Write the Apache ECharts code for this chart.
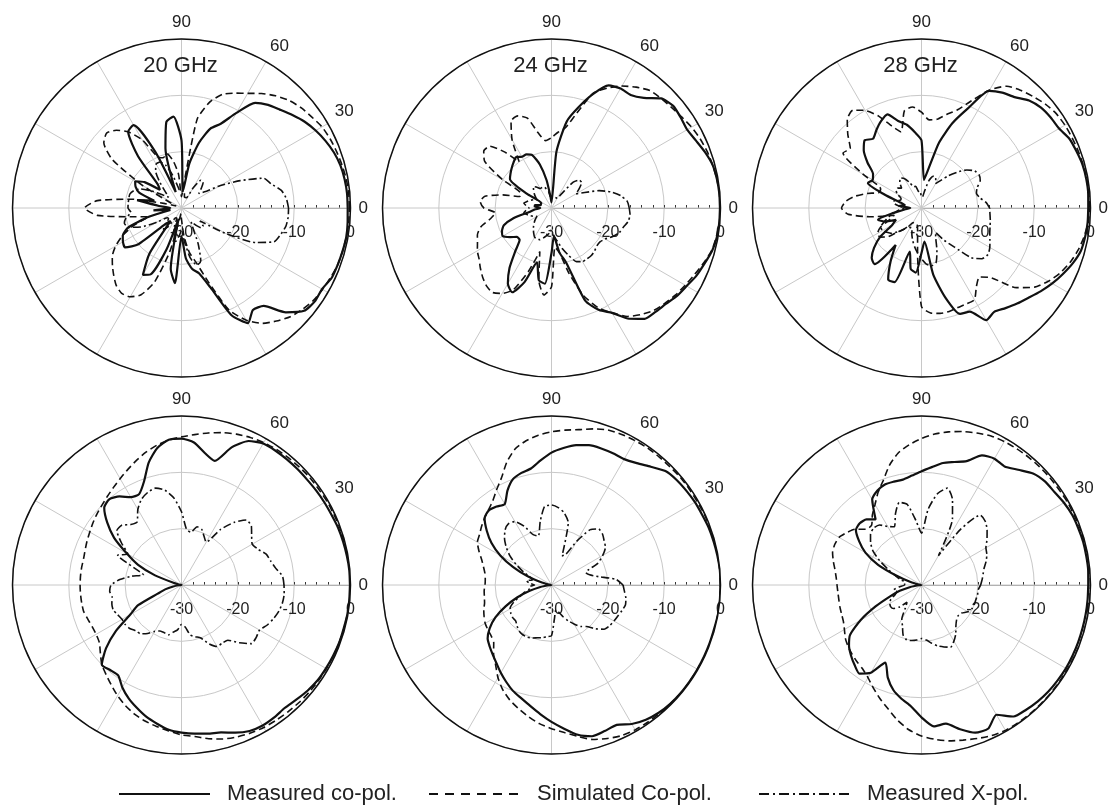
<!DOCTYPE html>
<html>
  <head>
    <meta charset="utf-8" />
    <title>Radiation patterns</title>
    <style>
      body {
        margin: 0;
        padding: 0;
        background: #fff;
      }
      #chart {
        width: 1115px;
        height: 808px;
      }
    </style>
    <script src="https://cdn.jsdelivr.net/npm/echarts/dist/echarts.min.js"></script>
  </head>

  <body>
    <div id="chart"></div>
  </body>
  <script>
    // angle of each sample, degrees (0 = right, counter-clockwise)
    const angles = [0, 5, 10, 15, 20, 25, 30, 35, 40, 45, 50, 55,
      60, 65, 70, 75, 80, 85, 90, 95, 100, 105, 110, 115,
      120, 125, 130, 135, 140, 145, 150, 155, 160, 165, 170, 175,
      180, 185, 190, 195, 200, 205, 210, 215, 220, 225, 230, 235,
      240, 245, 250, 255, 260, 265, 270, 275, 280, 285, 290, 295,
      300, 305, 310, 315, 320, 325, 330, 335, 340, 345, 350, 355, 360];

    const angleLabels = [0, 30, 60, 90];
    const radiusTicks = [-30, -20, -10, 0];
    const seriesNames = ["Measured co-pol.", "Simulated Co-pol.", "Measured X-pol."];
    const freqLabels = ["20 GHz", "24 GHz", "28 GHz"];

    // ---- top row, normalized gain in dB ----
    const meas_t20 = [-0.5, -0.5, -0.6, -0.8, -1.2, -1.8, -2.5, -3.3, -4.3, -5.3, -6.1, -7.2,
      -10.5, -13.5, -15, -18, -22, -27, -18, -13.7, -14.5, -19, -27, -19,
      -13, -13.5, -18, -24, -25, -22, -20.5, -21, -22, -25, -22, -26,
      -28, -25, -28, -24, -20, -18.5, -18, -17.8, -20, -26, -27, -20,
      -16.3, -17, -22, -28, -19, -16.6, -25, -21, -19, -18, -15, -9,
      -6.4, -7.9, -7.3, -3.8, -1.6, -1.1, -1.2, -0.6, -0.5, -0.4, -0.3, -0.4, -0.5];
    const sim_t20 = [-0.2, -0.2, -0.3, -0.5, -0.7, -0.9, -1.2, -1.8, -2.3, -3, -4, -5.2,
      -6.5, -7.5, -8.5, -10.5, -14, -26, -28, -24, -21.5, -20, -20.5, -20,
      -16, -13.5, -12, -11.2, -12, -15, -22, -28, -29, -27, -21, -15,
      -12.8, -15, -21, -24, -21, -18.5, -16.5, -15, -14, -13, -12, -11.5,
      -11.8, -13, -16, -22, -28, -29, -28, -25, -22, -20, -16, -10,
      -7, -5, -3.8, -2.7, -2, -1.4, -1.1, -0.8, -0.5, -0.4, -0.3, -0.2, -0.2];
    const xpol_t20 = [-11, -11.3, -12, -13.5, -14.5, -18.5, -22, -25, -26, -25, -24, -24,
      -26, -28, -28, -28, -27, -27, -27, -27, -26, -24, -22, -21,
      -21, -22, -24, -26, -27, -26, -24, -22, -21, -20.5, -20.5, -20.5,
      -20.5, -21, -20, -19.5, -20, -22, -25, -27, -27, -26, -25, -26,
      -28, -28, -26, -25, -24, -25, -26, -24, -21, -19.5, -20, -23,
      -26, -27, -26, -25, -25, -26, -21, -15.5, -12.5, -11.8, -11.2, -11, -11];

    const meas_t24 = [-0.1, -0.1, -0.2, -0.4, -1, -1.7, -2.2, -2, -1.8, -2.5, -4.5, -5.5,
      -5.5, -6, -8.5, -11.5, -14.4, -20, -29, -28, -25, -22, -20, -19.5,
      -19.5, -19, -19.5, -20, -20.5, -21, -25, -28, -28, -28, -27, -27,
      -28, -27, -26, -23, -21, -20.3, -20, -21, -22, -22, -20, -17,
      -14.5, -13.5, -16, -20, -17, -16.5, -22, -25, -22, -20, -12.5, -10,
      -8.5, -6, -4.3, -3.9, -3.5, -2.8, -2.3, -1.6, -1.1, -0.5, -0.2, -0.1, -0.1];
    const sim_t24 = [0, -0.1, -0.2, -0.4, -0.6, -0.9, -1.3, -1.8, -2.2, -2.5, -2.8, -3.8,
      -5, -6.5, -8.3, -12.5, -15.5, -16.5, -17.5, -18, -16.5, -13.5, -12.6, -13,
      -16, -20, -17, -14.5, -14.3, -15.5, -20, -24, -24, -21, -18, -17.3,
      -18, -20, -19, -17, -16, -15.5, -14.8, -14.3, -13.5, -12.7, -12, -11.7,
      -12.5, -14, -18, -22, -17, -14.5, -16, -23, -22, -18, -13.5, -10.5,
      -8.5, -6.5, -5.3, -4.3, -3.7, -3.1, -2.6, -2, -1.3, -0.6, -0.3, -0.1, 0];
    const xpol_t24 = [-16.2, -16.5, -17.5, -19, -21, -23.5, -25, -24, -23, -23, -24, -27,
      -28, -28, -28, -28, -28, -28, -28, -28, -27, -26.5, -26, -26,
      -26, -25.5, -25, -25.5, -26, -26.5, -27, -26.5, -26, -25.5, -25, -25.5,
      -26, -25.5, -25, -25.5, -26, -26.5, -27, -26.5, -26, -25.5, -25, -24.5,
      -24, -24, -24, -24.5, -25, -25.5, -26, -25, -24, -22.5, -21, -19.5,
      -19, -19, -19, -19.2, -19.5, -19.5, -19, -18, -17.2, -16.8, -16.2, -16, -16.2];

    const meas_t28 = [-0.4, -0.3, -0.3, -0.4, -0.7, -1, -1.8, -2, -2.3, -3, -4.3, -5,
      -6, -10.5, -14, -18, -23, -25, -18, -16.5, -15, -14, -12.3, -13,
      -14, -15, -14.3, -15.5, -17.5, -19.5, -20, -19.5, -23, -26, -27, -26,
      -28, -27, -25, -22, -23, -25, -24, -21, -19, -17.5, -17, -22,
      -19, -16, -16, -22, -19, -18.5, -22, -24, -18, -13.5, -10, -9.7,
      -7, -7.5, -6.8, -6, -5.2, -4.2, -3.2, -2.3, -1.4, -0.7, -0.5, -0.4, -0.4];
    const sim_t28 = [-0.1, -0.2, -0.2, -0.3, -0.4, -0.5, -0.6, -0.8, -1.3, -2, -2.7, -3.6,
      -5.8, -9, -11.5, -12.8, -14, -14.3, -13, -12, -12.5, -16, -14.5, -12,
      -10, -8.8, -9.5, -11.5, -13.5, -13, -18, -22, -22, -20, -18, -16.5,
      -15.8, -17, -21, -25, -24, -22, -21, -21, -22, -24, -25, -26,
      -27, -27, -27, -27, -26, -22, -12.5, -11.3, -11, -11, -11.2, -11.2,
      -11.2, -13, -14, -12.5, -8, -5.5, -4, -2.8, -1.9, -1.2, -0.7, -0.3, -0.1];
    const xpol_t28 = [-17.9, -18.5, -19.5, -19.9, -19.5, -18.5, -18.2, -18.5, -19.5, -21, -22.5, -24,
      -25, -24, -24, -25, -27, -28, -28, -27, -27, -26, -26, -25,
      -24, -23.5, -24, -25, -24.5, -24.5, -25, -26, -26, -25, -25, -26,
      -27, -26, -25, -24, -23, -22, -22, -22.5, -23, -24, -25, -26,
      -26, -26, -25, -24, -23, -22, -21, -20, -19.6, -20, -22, -24,
      -25, -23, -21, -17.5, -16, -15.6, -16, -16.6, -17.1, -17.4, -17.6, -17.8, -17.9];

    // ---- bottom row ----
    const meas_b20 = [-0.1, -0.1, -0.2, -0.3, -0.4, -0.6, -0.7, -0.8, -0.9, -0.9, -0.9, -0.9,
      -1, -1.8, -4, -7.2, -6.2, -4.6, -4, -4.1, -5.3, -7.5, -10.5, -12.2,
      -12, -10.8, -10.1, -10.6, -12.8, -15.4, -18.8, -21.5, -25, -28.5, -29.5, -29.8,
      -30, -29.5, -28.5, -27, -25.5, -21.5, -19.5, -15.8, -12.5, -10, -10.3, -10.4,
      -9, -7.8, -6.8, -5.8, -5, -4.2, -3.8, -3.5, -3.2, -2.9, -2.1, -1.4,
      -1.2, -1.3, -1.5, -1.2, -0.8, -0.5, -0.4, -0.3, -0.2, -0.2, -0.1, -0.1, -0.1];
    const sim_b20 = [0, 0, 0, -0.1, -0.1, -0.2, -0.2, -0.3, -0.3, -0.4, -0.5, -0.6,
      -0.8, -1.1, -1.5, -2, -2.6, -3.2, -3.7, -4.2, -4.8, -5.6, -6.5, -7.4,
      -8.2, -8.9, -9.5, -10, -10.4, -10.8, -11.2, -11.5, -11.8, -12, -12, -12,
      -12, -12, -12, -12, -12.3, -12.5, -12.5, -12.2, -11.2, -10, -9.2, -8.3,
      -7.3, -6.4, -5.6, -5, -4.5, -4, -3.4, -3, -2.3, -1.7, -1.3, -1,
      -0.8, -0.7, -0.6, -0.5, -0.4, -0.35, -0.3, -0.25, -0.2, -0.15, -0.1, -0.05, 0];
    const xpol_b20 = [-11.8, -12, -13, -13.6, -14, -15, -15.5, -14.8, -13.8, -13.7, -15.5, -18,
      -21.2, -20.5, -19.5, -19.3, -20.5, -20, -17, -14.5, -12.9, -12.2, -12.5, -13.2,
      -14.5, -16.3, -16, -15, -15, -17, -19, -17.5, -21, -23, -21, -19,
      -17.5, -17.2, -17.5, -17.2, -17.1, -17.5, -17.8, -17.8, -18, -18.5, -18.7, -19.5,
      -20.5, -21, -21, -20.8, -21.5, -22, -23, -22.5, -21, -20.5, -20, -18.5,
      -17.4, -17.4, -17.2, -15.5, -13.8, -13.8, -14, -13.2, -12.6, -12.1, -11.8, -11.7, -11.8];

    const meas_b24 = [0, 0, -0.1, -0.2, -0.3, -0.5, -0.6, -0.8, -1, -1.4, -2.6, -3.6,
      -4.2, -4.2, -4.2, -4.3, -4.8, -5.6, -6.5, -7.8, -9, -9.4, -10, -11.5,
      -13.4, -13, -12.7, -13.2, -15, -17, -19.5, -22.5, -25.5, -28, -29.5, -30,
      -30, -29.5, -28, -26, -23.5, -21, -18.5, -16.6, -15.2, -14.5, -13.8, -13,
      -12, -11, -10, -9.2, -8.2, -7, -5.7, -4.4, -3, -2.2, -2.4, -2.6,
      -1.5, -0.8, -0.4, -0.2, -0.1, -0.1, -0.1, -0.1, -0.1, -0.1, 0, 0, 0];
    const sim_b24 = [0, 0, 0, 0, -0.1, -0.1, -0.2, -0.2, -0.2, -0.3, -0.3, -0.3,
      -0.4, -0.5, -0.7, -1.3, -2, -2.4, -2.8, -3.3, -4, -5, -6.8, -9,
      -10.5, -11.8, -12.6, -13.2, -13.8, -14.4, -14.8, -15.8, -16.8, -17.5, -18, -18.2,
      -18.2, -18, -17.9, -17.7, -17.2, -16.8, -16.4, -16.2, -16, -15.5, -14, -12.7,
      -11, -9.5, -8.3, -7.3, -6.3, -5.3, -4.5, -3.7, -2.7, -1.6, -1, -0.5,
      -0.3, -0.25, -0.2, -0.15, -0.1, -0.1, -0.1, -0.05, 0, 0, 0, 0, 0];
    const xpol_b24 = [-17.3, -18.5, -21.5, -23, -23.5, -21, -19.5, -18.3, -17.8, -17.2, -17, -18,
      -21, -24, -24.5, -18.5, -17, -16.2, -15.8, -16, -18.5, -21, -20.5, -18.5,
      -17, -16.7, -17.2, -18.2, -19.5, -21, -22.8, -24.5, -26, -26.5, -25.5, -26,
      -27, -26, -26, -25, -24, -22.5, -21.5, -21.2, -21, -21, -20.5, -20,
      -19.8, -19.8, -20, -20.3, -20.5, -20.8, -21, -24, -25.5, -25, -24, -23,
      -22, -21, -20.4, -19, -17.8, -17.4, -17.2, -17, -16.7, -16.4, -16.6, -17, -17.3];

    const meas_b28 = [-0.4, -0.3, -0.3, -0.3, -0.4, -0.5, -0.8, -1.2, -1.4, -2, -3.3, -4.3,
      -4.1, -4.6, -6.6, -7.4, -8, -9, -9.8, -10.5, -11, -11, -11, -11.5,
      -12.5, -15.8, -14.8, -14.5, -14.8, -16.5, -18.5, -21.5, -25.5, -28, -29.5, -30,
      -30, -29.5, -28, -26, -24, -21, -17.5, -14.5, -13.2, -12.3, -11.5, -10.8,
      -12, -14.8, -12.5, -10.7, -9.5, -8.4, -6.5, -4.8, -5, -3.5, -2.1, -1.9,
      -3.4, -1.5, -1.1, -0.8, -0.6, -0.5, -0.4, -0.4, -0.4, -0.4, -0.4, -0.4, -0.4];
    const sim_b28 = [0, 0, 0, -0.1, -0.1, -0.2, -0.2, -0.3, -0.3, -0.35, -0.4, -0.5,
      -0.6, -0.8, -1.3, -1.8, -2.4, -3.1, -4, -5, -6.2, -8, -10.2, -11.8,
      -13.5, -14.8, -16.2, -16, -14.6, -13.8, -13.1, -13, -13.2, -13.8, -14.4, -14.8,
      -15, -15.1, -15.1, -15, -14.9, -14.7, -14.2, -13.5, -13, -12.6, -12.2, -11.8,
      -11, -9.8, -8.5, -7.2, -5.6, -4.2, -3.2, -2.5, -1.9, -1.5, -1, -0.5,
      -0.2, -0.15, -0.1, -0.1, -0.1, -0.1, -0.1, -0.05, 0, 0, 0, 0, 0];
    const xpol_b28 = [-19.5, -19.2, -18.9, -18.5, -17.8, -17.2, -16.8, -15.8, -14.8, -14, -13.8, -18,
      -24, -17, -13.9, -12.2, -13.5, -16.5, -20.8, -18.5, -15.5, -14.8, -16.5, -18.6,
      -18, -17, -16.8, -17.2, -18.2, -19.5, -21.5, -23.5, -25, -26, -27, -27,
      -27, -26, -25, -25.5, -25, -24, -23.5, -23.3, -23.5, -24.5, -26, -25,
      -23, -22, -20.5, -19.9, -20, -20.2, -20.5, -20.2, -19.5, -18.8, -18.3, -17.8,
      -18.5, -19.4, -20.5, -21.2, -21.5, -21.3, -20.5, -20.1, -20, -20, -19.9, -19.9, -19.5];

    const panels = [
      [meas_t20, sim_t20, xpol_t20],
      [meas_t24, sim_t24, xpol_t24],
      [meas_t28, sim_t28, xpol_t28],
      [meas_b20, sim_b20, xpol_b20],
      [meas_b24, sim_b24, xpol_b24],
      [meas_b28, sim_b28, xpol_b28],
    ];

    // layout
    const R = 169;
    const centers = [
      [181.5, 208], [551.5, 208], [921.5, 208],
      [181.5, 585], [551.5, 585], [921.5, 585],
    ];
    const FONT = "'Liberation Sans', Arial, Helvetica, sans-serif";
    const lineStyles = [
      { color: "#111", width: 2.2, type: "solid" },
      { color: "#111", width: 1.6, type: [7, 4] },
      { color: "#111", width: 1.6, type: [8, 3, 2, 3] },
    ];
    // the legend keys are drawn a little larger than the plot lines
    const legendLines = [
      { width: 2, type: "solid" },
      { width: 2, type: [9, 7] },
      { width: 2, type: [10, 4, 2, 4] },
    ];

    function toPairs(vals) {
      return vals.map((v, i) => [v, angles[i]]);
    }

    const polar = centers.map((c) => ({ center: c, radius: [0, R] }));

    const angleAxis = centers.map((c, i) => ({
      polarIndex: i,
      type: "value",
      min: 0,
      max: 360,
      interval: 30,
      startAngle: 0,
      clockwise: false,
      z: 3,
      axisLine: { lineStyle: { color: "#111", width: 1.5 } },
      axisTick: { show: false },
      splitLine: { lineStyle: { color: "#c8c8c8", width: 1 } },
      axisLabel: {
        margin: 8,
        align: "center",
        verticalAlign: "middle",
        color: "#222",
        fontSize: 17,
        fontFamily: FONT,
        formatter: (v) => (angleLabels.includes(v) ? String(v) : ""),
      },
    }));

    const radiusAxis = centers.map((c, i) => ({
      polarIndex: i,
      type: "value",
      min: radiusTicks[0],
      max: radiusTicks[radiusTicks.length - 1],
      interval: 10,
      z: 2,
      axisLine: { lineStyle: { color: "#9a9a9a", width: 1 } },
      axisTick: { show: true, length: 3, lineStyle: { color: "#333" } },
      minorTick: { show: true, splitNumber: 5, length: 3, lineStyle: { color: "#333" } },
      splitLine: { lineStyle: { color: "#c8c8c8", width: 1 } },
      axisLabel: {
        margin: -17,
        verticalAlign: "top",
        align: "center",
        color: "#222",
        fontSize: 16,
        fontFamily: FONT,
      },
    }));

    const series = [];
    panels.forEach((p, i) => {
      p.forEach((vals, k) => {
        series.push({
          type: "line",
          name: seriesNames[k],
          coordinateSystem: "polar",
          polarIndex: i,
          data: toPairs(vals),
          symbol: "none",
          smooth: 0.2,
          lineStyle: lineStyles[k],
          itemStyle: { color: "#111" },
          z: 5 - k,
          silent: true,
          animation: false,
        });
      });
    });

    const legendLefts = [118, 428, 758];
    const legend = seriesNames.map((n, k) => ({
      data: [n],
      left: legendLefts[k],
      top: 783,
      padding: 0,
      itemWidth: 91,
      itemHeight: 14,
      selectedMode: false,
      itemStyle: { opacity: 0 },
      lineStyle: legendLines[k],
      textStyle: { color: "#222", fontSize: 22, fontFamily: FONT, padding: [0, 0, 0, 12] },
    }));

    const graphic = freqLabels.map((t, i) => ({
      type: "text",
      x: centers[i][0] - 1,
      y: 66,
      z: 10,
      style: {
        text: t,
        fontSize: 22,
        fontFamily: FONT,
        fill: "#222",
        align: "center",
        verticalAlign: "middle",
      },
    }));

    const myChart = echarts.init(document.getElementById("chart"));
    myChart.setOption({
      animation: false,
      backgroundColor: "#fff",
      polar: polar,
      angleAxis: angleAxis,
      radiusAxis: radiusAxis,
      legend: legend,
      graphic: graphic,
      series: series,
    });
  </script>
</html>
